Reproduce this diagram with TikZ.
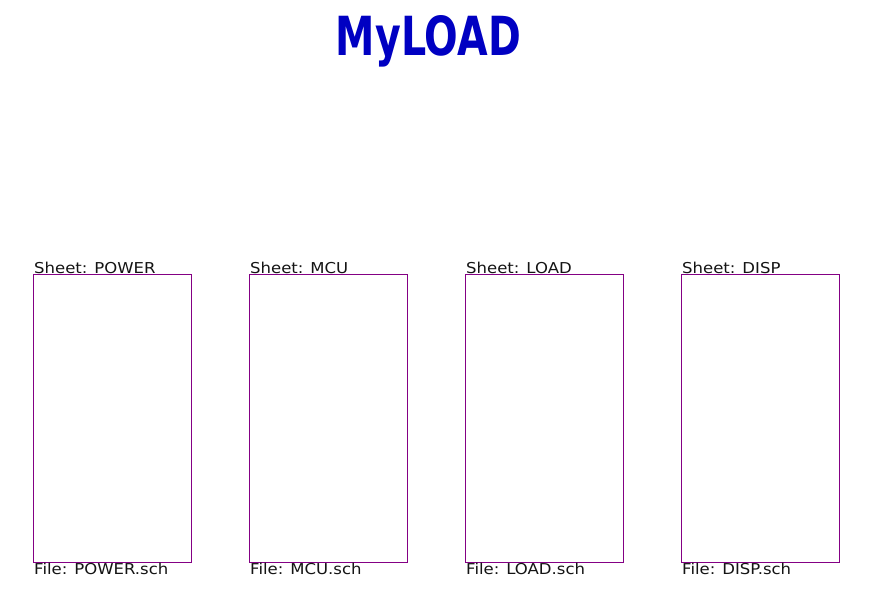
\documentclass[tikz,border=0pt]{standalone}
\usepackage{fontspec}
\setmainfont{DejaVu Sans}
\definecolor{titleblue}{RGB}{0,0,194}
\definecolor{sheetpurple}{RGB}{132,0,132}
\definecolor{txt}{RGB}{20,20,20}
\begin{document}
\begin{tikzpicture}[x=1pt,y=-1pt,
  sheetbox/.style={draw=sheetpurple,line width=0.9pt},
  lbl/.style={anchor=base west,inner sep=0pt,text=txt,font=\fontsize{15}{15}\selectfont,xscale=1.1}]
\useasboundingbox[fill=white] (0,0) rectangle (879,595);
\node[anchor=base,inner sep=0pt,text=titleblue] (title) at (428.5,55)
  {\resizebox{185pt}{40pt}{\bfseries MyLOAD}};
\foreach \x/\n in {33/POWER,249/MCU,465/LOAD,681/DISP}{
  \draw[sheetbox] (\x,274) rectangle (\x+158,562);
  \node[lbl] (s\n) at (\x+1,273) {Sheet: \n};
  \node[lbl] (f\n) at (\x+1,574.5) {File: \n.sch};
}
\end{tikzpicture}
\end{document}
